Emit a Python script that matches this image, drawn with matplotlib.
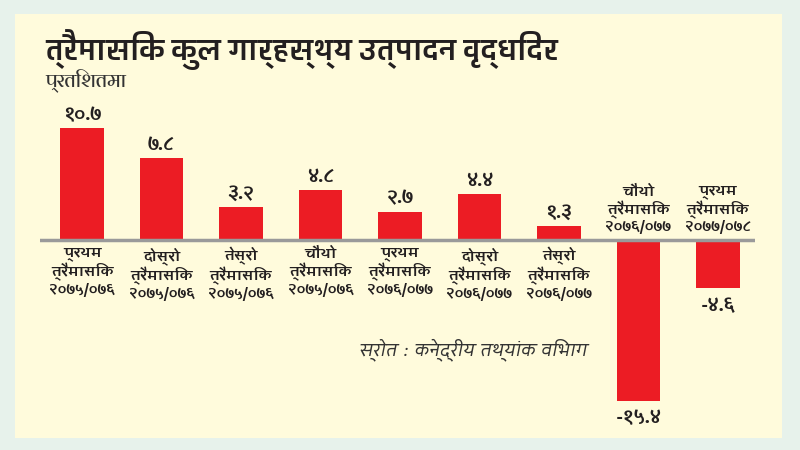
import matplotlib
matplotlib.use("Agg")
import matplotlib.pyplot as plt
from matplotlib import font_manager
from matplotlib.patches import Rectangle

# data
quarters = ["प्रथम", "दोस्रो", "तेस्रो", "चौथो", "प्रथम", "दोस्रो", "तेस्रो", "चौथो", "प्रथम"]
years = ["२०७५/०७६", "२०७५/०७६", "२०७५/०७६", "२०७५/०७६",
         "२०७६/०७७", "२०७६/०७७", "२०७६/०७७", "२०७६/०७७", "२०७७/०७८"]
growth = [10.7, 7.8, 3.2, 4.8, 2.7, 4.4, 1.3, -15.4, -4.6]
value_labels = ["१०.७", "७.८", "३.२", "४.८", "२.७", "४.४", "१.३", "-१५.४", "-४.६"]

title = "त्रैमासिक कुल गार्हस्थ्य उत्पादन वृद्धिदर"
subtitle = "प्रतिशतमा"
source = "स्रोत : केन्द्रीय तथ्यांक विभाग"
quarter_word = "त्रैमासिक"

names = {f.name for f in font_manager.fontManager.ttflist}
def pick(*cands):
    for n in cands:
        if n in names:
            return [n, "DejaVu Sans"]
    return ["DejaVu Sans"]

title_font = pick("Biryani", "Amiko")
label_font = pick("Amiko", "Ek Mukta", "Biryani")
plain_font = pick("Arya", "Cambay", "Biryani")
italic_font = pick("Cambay", "Arya")
plt.rcParams["font.family"] = plain_font

red = "#ec1c24"
ink = "#231f20"

fig = plt.figure(figsize=(8, 4.5), dpi=100)
fig.patch.set_facecolor("#e7f2eb")
fig.patches.append(Rectangle((0.019, 0.027), 0.959, 0.942, transform=fig.transFigure,
                             facecolor="#fffbdc", edgecolor="none", zorder=-5))

fig.text(0.056, 0.89, title, fontsize=22, fontweight="bold", color=ink, va="center",
         family=title_font)
fig.text(0.056, 0.82, subtitle, fontsize=14, color="#333333", va="center",
         family=plain_font)

ax = fig.add_axes([0.05, 0.0667, 0.894, 0.711])
ax.set_facecolor("none")
x = list(range(len(growth)))
ax.bar(x, growth, width=0.55, color=red, zorder=2)
ax.axhline(0, color="#9a9a9a", lw=2.5, zorder=3)
ax.set_xlim(-0.53, 8.47)
ax.set_ylim(-17.19, 13.37)
ax.axis("off")

for i, v in enumerate(growth):
    cat = quarters[i] + "\n" + quarter_word + "\n" + years[i]
    if v >= 0:
        ax.annotate(value_labels[i], (i, v), xytext=(0, 3), textcoords="offset points",
                    ha="center", va="bottom", fontsize=13.5, fontweight="bold", color=ink,
                    family=label_font)
        ax.annotate(cat, (i, 0), xytext=(0, -5), textcoords="offset points",
                    ha="center", va="top", fontsize=10.5, fontweight="bold", color=ink,
                    linespacing=1.15, family=label_font)
    else:
        ax.annotate(value_labels[i], (i, v), xytext=(0, -6), textcoords="offset points",
                    ha="center", va="top", fontsize=13.5, fontweight="bold", color=ink,
                    family=label_font)
        ax.annotate(cat, (i, 0), xytext=(0, 4), textcoords="offset points",
                    ha="center", va="bottom", fontsize=10.5, fontweight="bold", color=ink,
                    linespacing=1.15, family=label_font)

fig.text(0.735, 0.222, source, fontsize=15, style="italic", color="#333333",
         ha="right", va="center", family=italic_font)

fig.savefig("out.png", facecolor=fig.get_facecolor())
